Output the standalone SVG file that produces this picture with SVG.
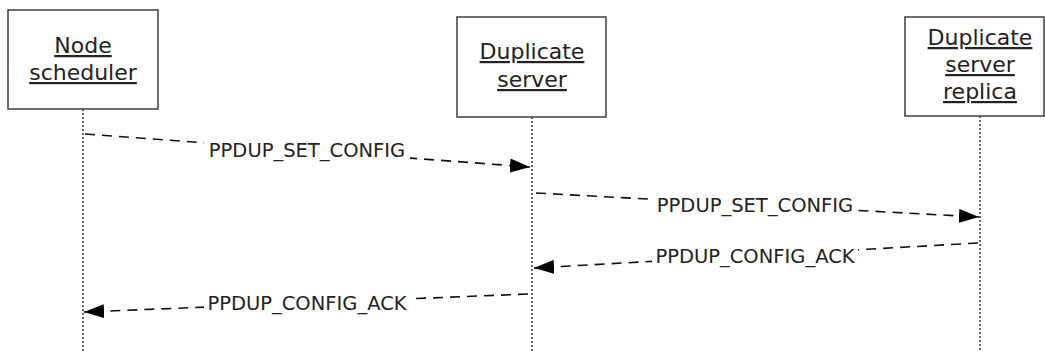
<svg xmlns="http://www.w3.org/2000/svg" width="1045" height="352" viewBox="0 0 1045 352">
<style>
.box{fill:#fff;stroke:#4a4a4a;stroke-width:1.6}
.life{stroke:#333;stroke-width:1.5;stroke-dasharray:2,2;fill:none}
.nt{font-family:"DejaVu Sans",Verdana,sans-serif;font-size:22px;fill:#222;text-anchor:middle;text-decoration:underline}
.msg{stroke:#111;stroke-width:1.6;stroke-dasharray:10,7;fill:none}
.lbl{font-family:"DejaVu Sans",Verdana,sans-serif;font-size:19.5px;fill:#222;text-anchor:middle}
.bg{fill:#fff}
</style>
<defs>
<marker id="ah" markerWidth="20" markerHeight="14" refX="20" refY="7" orient="auto" markerUnits="userSpaceOnUse">
<path d="M0,0 L20,7 L0,14 Z" fill="#000"/>
</marker>
</defs>
<g id="lifelines">
<line class="life" x1="83" y1="109" x2="83" y2="352"/>
<line class="life" x1="532" y1="117" x2="532" y2="352"/>
<line class="life" x1="980" y1="116" x2="980" y2="352"/>
</g>
<g id="node-scheduler">
<rect class="box" x="8" y="10" width="150" height="99"/>
<text class="nt" x="83" y="53">Node</text>
<text class="nt" x="83" y="80">scheduler</text>
</g>
<g id="duplicate-server">
<rect class="box" x="457" y="17" width="149" height="100"/>
<text class="nt" x="532" y="59">Duplicate</text>
<text class="nt" x="532" y="87">server</text>
</g>
<g id="duplicate-server-replica">
<rect class="box" x="905" y="17" width="139" height="99"/>
<text class="nt" x="980" y="45">Duplicate</text>
<text class="nt" x="980" y="72">server</text>
<text class="nt" x="980" y="99">replica</text>
</g>
<g id="connectors">
<line class="msg" x1="85" y1="134" x2="530" y2="167" marker-end="url(#ah)"/>
<rect class="bg" x="204" y="140" width="206" height="20"/>
<text class="lbl" x="307" y="157">PPDUP_SET_CONFIG</text>
<line class="msg" x1="536" y1="193" x2="979" y2="217" marker-end="url(#ah)"/>
<rect class="bg" x="652" y="195" width="206" height="20"/>
<text class="lbl" x="755" y="212">PPDUP_SET_CONFIG</text>
<line class="msg" x1="978" y1="243" x2="534" y2="268" marker-end="url(#ah)"/>
<rect class="bg" x="652" y="246" width="206" height="20"/>
<text class="lbl" x="755" y="263">PPDUP_CONFIG_ACK</text>
<line class="msg" x1="528" y1="294" x2="84" y2="312" marker-end="url(#ah)"/>
<rect class="bg" x="204" y="293" width="206" height="20"/>
<text class="lbl" x="307" y="310">PPDUP_CONFIG_ACK</text>
</g>
</svg>
